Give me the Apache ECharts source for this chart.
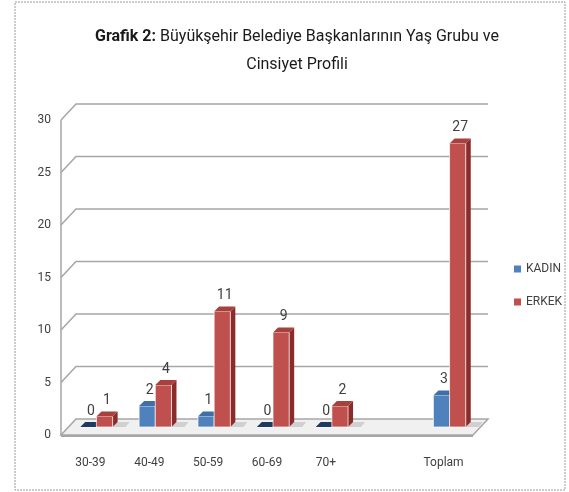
<!DOCTYPE html>
<html>
<head>
<meta charset="utf-8">
<script src="https://cdn.jsdelivr.net/npm/echarts@6/dist/echarts.min.js"></script>
<style>
  html, body { margin: 0; padding: 0; background: #fff; }
  #main { width: 569px; height: 492px; }
</style>
</head>
<body>
<div id="main"></div>
<script>
// veriler
const categories = ['30-39', '40-49', '50-59', '60-69', '70+', '', 'Toplam'];
const kadin = [0, 2, 1, 0, 0, null, 3];
const erkek = [1, 4, 11, 9, 2, null, 27];
const yTicks = [0, 5, 10, 15, 20, 25, 30];

const FONT = 'Roboto, "Open Sans", sans-serif';
const DX = 15, DY = 16;      // duvar derinligi
const BX = 6, BY = 8;        // cubuklarin derinlikteki yeri
const BD = 5;                // cubuk derinligi

const chart = echarts.init(document.getElementById('main'));

function wallItem(params, api) {
    const v = api.value(1);
    const cs = params.coordSys;
    const xl = cs.x, xr = cs.x + cs.width;
    const y = api.coord([0, v])[1];
    const children = [];
    if (v === 0) {
        const yTop = api.coord([0, yTicks[yTicks.length - 1]])[1];
        children.push({
            type: 'polygon',
            shape: { points: [[xl, y], [xr, y], [xr + DX, y - DY], [xl + DX, y - DY]] },
            style: { fill: '#f0f0f0', stroke: '#a6a6a6', lineWidth: 1.5 }
        });
        children.push({
            type: 'line',
            shape: { x1: xl, y1: y + 1, x2: xr, y2: y + 1 },
            style: { stroke: '#a6a6a6', lineWidth: 2 }
        });
        children.push({
            type: 'line',
            shape: { x1: xl, y1: y, x2: xl, y2: yTop },
            style: { stroke: '#a6a6a6', lineWidth: 1.5 }
        });
    } else {
        children.push({
            type: 'polyline',
            shape: { points: [[xl, y], [xl + DX, y - DY], [xr + DX, y - DY]] },
            style: { stroke: '#a6a6a6', lineWidth: 1.5, fill: null }
        });
    }
    return { type: 'group', children: children };
}

function barItem(side, cFront, cTop, cSide, cZero) {
    return function (params, api) {
        const idx = api.value(0), val = api.value(1);
        const p = api.coord([idx, val]);
        const b = api.coord([idx, 0]);
        const bw = api.size([1, 0])[0];
        const w = bw * 0.275;
        const x = p[0] + BX - (side === 0 ? w : 0);
        const yt = p[1] - BY;
        const yb = b[1] - BY;
        const topFill = val === 0 ? cZero : cTop;
        return {
            type: 'group',
            children: [
                { // golge
                    type: 'polygon',
                    shape: { points: [[x + w, yb], [x + w + BD + 8, yb], [x + w + BD + 12, yb - BD], [x + w + BD, yb - BD]] },
                    style: { fill: 'rgba(150,150,150,0.35)' }
                },
                {
                    type: 'polygon',
                    shape: { points: [[x + w, yt], [x + w + BD, yt - BD], [x + w + BD, yb - BD], [x + w, yb]] },
                    style: { fill: cSide }
                },
                {
                    type: 'rect',
                    shape: { x: x, y: yt, width: w, height: yb - yt },
                    style: { fill: cFront, stroke: 'rgba(255,255,255,0.7)', lineWidth: 1 }
                },
                {
                    type: 'polygon',
                    shape: { points: [[x, yt], [x + w, yt], [x + w + BD, yt - BD], [x + BD, yt - BD]] },
                    style: { fill: topFill }
                },
                {
                    type: 'text',
                    style: {
                        text: String(val),
                        x: x + (w + BD) / 2,
                        y: yt - BD - 4,
                        align: 'center',
                        verticalAlign: 'bottom',
                        fill: '#404040',
                        font: '14px ' + FONT
                    }
                }
            ]
        };
    };
}

function pairs(arr) {
    return arr.map((v, i) => [i, v]).filter(d => d[1] !== null);
}

const option = {
    animation: false,
    backgroundColor: '#fff',
    title: {
        text: '{b|Grafik 2:} Büyükşehir Belediye Başkanlarının Yaş Grubu ve\nCinsiyet Profili',
        left: 292,
        top: 18,
        textAlign: 'center',
        textStyle: {
            fontFamily: FONT,
            fontSize: 16,
            fontWeight: 'normal',
            color: '#1a1a1a',
            lineHeight: 28,
            rich: {
                b: { fontFamily: FONT, fontSize: 16, fontWeight: 'bold', color: '#1a1a1a', lineHeight: 28 }
            }
        }
    },
    legend: {
        data: ['KADIN', 'ERKEK'],
        orient: 'vertical',
        left: 514,
        top: 263,
        padding: 0,
        itemWidth: 7,
        itemHeight: 7,
        itemGap: 21,
        icon: 'rect',
        textStyle: { fontFamily: FONT, fontSize: 12, color: '#404040' }
    },
    grid: { left: 61, right: 96, top: 120, bottom: 57 },
    xAxis: {
        type: 'category',
        data: categories,
        axisLine: { show: false },
        axisTick: { show: false },
        axisLabel: { margin: 22, fontFamily: FONT, fontSize: 12, color: '#404040', interval: 0 }
    },
    yAxis: {
        type: 'value',
        min: 0,
        max: 30,
        interval: 5,
        axisLine: { show: false },
        axisTick: { show: false },
        splitLine: { show: false },
        axisLabel: { margin: 10, fontFamily: FONT, fontSize: 12, color: '#404040' }
    },
    graphic: [
        {
            type: 'rect',
            shape: { x: 15, y: 2, width: 550, height: 488 },
            style: { fill: null, stroke: '#9a9a9a', lineWidth: 1, lineDash: [2, 1] },
            silent: true
        }
    ],
    series: [
        {
            name: 'duvar',
            type: 'custom',
            silent: true,
            z: 1,
            renderItem: wallItem,
            data: yTicks.map(v => [0, v])
        },
        {
            name: 'KADIN',
            type: 'custom',
            z: 3,
            itemStyle: { color: '#4f81bd' },
            renderItem: barItem(0, '#4f81bd', '#3f6ea9', '#2f5a8e', '#1f3a5f'),
            data: pairs(kadin)
        },
        {
            name: 'ERKEK',
            type: 'custom',
            z: 3,
            itemStyle: { color: '#c0504d' },
            renderItem: barItem(1, '#c0504d', '#a8403d', '#8a2c2a', '#8a2c2a'),
            data: pairs(erkek)
        }
    ]
};

chart.setOption(option);
</script>
</body>
</html>
